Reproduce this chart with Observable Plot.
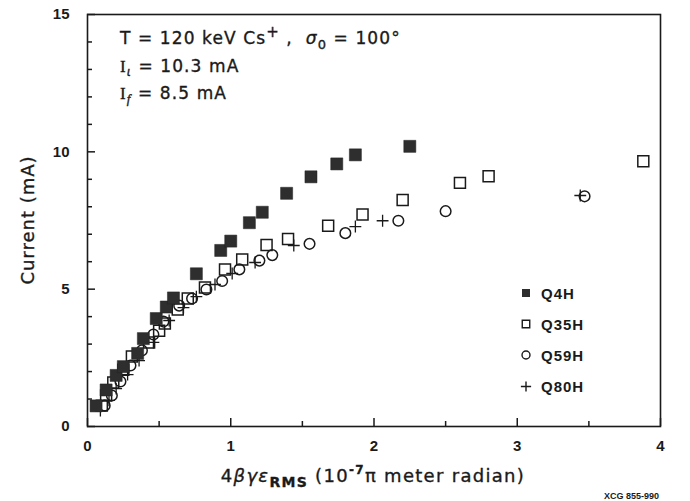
<!DOCTYPE html>
<html><head><meta charset="utf-8">
<script src="https://cdn.jsdelivr.net/npm/d3@7"></script>
<script src="https://cdn.jsdelivr.net/npm/@observablehq/plot@0.6"></script>
<style>
body{margin:0;background:#fff}
#chart{position:relative;width:690px;height:501px;overflow:hidden}
</style>
</head><body><div id="chart"></div>
<script>
// ---- data ----
const series = ["Q4H", "Q35H", "Q59H", "Q80H"];
const q4hX = [0.06,0.13,0.20,0.25,0.35,0.39,0.48,0.55,0.60,0.76,0.93,1.00,1.13,1.22,1.39,1.56,1.74,1.87,2.25];
const q4hY = [0.75,1.33,1.86,2.18,2.66,3.20,3.93,4.35,4.68,5.56,6.41,6.75,7.42,7.80,8.49,9.09,9.56,9.89,10.20];
const q35hX = [0.10,0.13,0.18,0.25,0.31,0.43,0.50,0.54,0.63,0.70,0.82,0.96,1.08,1.25,1.40,1.68,1.92,2.20,2.60,2.80,3.88];
const q35hY = [0.76,1.13,1.60,2.07,2.55,3.06,3.49,3.75,4.26,4.66,5.06,5.72,6.08,6.61,6.83,7.31,7.72,8.25,8.87,9.11,9.66];
const q59hX = [0.12,0.17,0.23,0.30,0.38,0.46,0.53,0.64,0.73,0.83,0.94,1.06,1.20,1.29,1.55,1.80,2.17,2.50,3.47];
const q59hY = [0.76,1.13,1.64,2.22,2.77,3.35,3.82,4.40,4.66,4.99,5.30,5.72,6.04,6.24,6.65,7.04,7.49,7.84,8.38];
const q80hX = [0.09,0.15,0.20,0.28,0.36,0.46,0.57,0.67,0.76,0.89,1.01,1.17,1.44,1.87,2.06,3.44];
const q80hY = [0.58,0.95,1.38,1.89,2.40,3.06,3.86,4.33,4.73,5.17,5.57,5.97,6.59,7.28,7.49,8.41];
const xMajor = [0, 1, 2, 3, 4];
const xMinor = [0.5, 1.5, 2.5, 3.5];
const yMajor = [0, 5, 10, 15];
const yMinor = [1,2,3,4,6,7,8,9,11,12,13,14];

const toRows = (xs, ys) => xs.map((x, i) => ({x, y: ys[i]}));
const q4h = toRows(q4hX, q4hY), q35h = toRows(q35hX, q35hY), q59h = toRows(q59hX, q59hY), q80h = toRows(q80hX, q80hY);

// layout
const W = 690, H = 501, mL = 87, mR = 30, mT = 14, mB = 75;
const xDom = [0, 4], yDom = [0, 15];
// tick lengths in pixels, turned into data units for inward tick rules
const xPerPx = (xDom[1] - xDom[0]) / (W - mL - mR);
const yPerPx = (yDom[1] - yDom[0]) / (H - mT - mB);

const ink = "#1a1a1a";
const plot = Plot.plot({
  width: W, height: H,
  marginLeft: mL, marginRight: mR, marginTop: mT, marginBottom: mB,
  x: {domain: xDom},
  y: {domain: yDom},
  style: {fontFamily: "'Liberation Sans', Arial, sans-serif", fontSize: "15px", fontWeight: "bold", color: ink, background: "#fff"},
  marks: [
    // inward tick marks
    Plot.ruleX(xMajor, {x: d => d, y1: yDom[0], y2: yDom[0] + 8 * yPerPx, stroke: ink, strokeWidth: 1.5}),
    Plot.ruleX(xMinor, {x: d => d, y1: yDom[0], y2: yDom[0] + 5 * yPerPx, stroke: ink, strokeWidth: 1.5}),
    Plot.ruleY(yMajor, {y: d => d, x1: xDom[0], x2: xDom[0] + 8 * xPerPx, stroke: ink, strokeWidth: 1.5}),
    Plot.ruleY(yMinor, {y: d => d, x1: xDom[0], x2: xDom[0] + 5 * xPerPx, stroke: ink, strokeWidth: 1.5}),
    Plot.axisX({ticks: xMajor, tickSize: 0, tickPadding: 14, tickFormat: d => d, label: null}),
    Plot.axisY({ticks: yMajor, tickSize: 0, tickPadding: 18, tickFormat: d => d, label: null}),
    Plot.frame({stroke: ink, strokeWidth: 1.6}),
    Plot.dot(q35h, {x: "x", y: "y", symbol: "square", r: 6.2, stroke: ink, strokeWidth: 1.5, fill: "none"}),
    Plot.dot(q59h, {x: "x", y: "y", symbol: "circle", r: 5.3, stroke: ink, strokeWidth: 1.5, fill: "none"}),
    Plot.dot(q80h, {x: "x", y: "y", symbol: "plus", r: 3.9, stroke: ink, strokeWidth: 1.3}),
    Plot.dot(q4h, {x: "x", y: "y", symbol: "square", r: 6.8, fill: "#2e2e2e", stroke: "#222", strokeWidth: 0.5})
  ]
});
document.getElementById("chart").appendChild(plot);

// ---- text overlays (annotation, axis titles, legend) ----
const svg = d3.select(plot);
const txtFont = "'DejaVu Sans', 'Liberation Sans', sans-serif";

// annotation
const ann = svg.append("g").attr("font-family", txtFont).attr("font-size", 17).attr("font-weight", "normal")
  .attr("text-anchor", "start").attr("fill", ink).attr("letter-spacing", "1.1px")
  .attr("stroke", ink).attr("stroke-width", 0.35);
const l1 = ann.append("text").attr("x", 120).attr("y", 44);
l1.append("tspan").text("T = 120 keV Cs");
l1.append("tspan").attr("dy", -7).attr("font-size", 15).text("+");
l1.append("tspan").attr("dy", 7).text(" ,  ");
l1.append("tspan").attr("font-style", "italic").text("σ");
l1.append("tspan").attr("dy", 5).attr("font-size", 13).text("0");
l1.append("tspan").attr("dy", -5).text(" = 100°");
const l2 = ann.append("text").attr("x", 120).attr("y", 72);
l2.append("tspan").attr("font-family", "'Liberation Serif', serif").text("I");
l2.append("tspan").attr("dy", 4).attr("font-size", 12).attr("font-style", "italic").text("ι");
l2.append("tspan").attr("dy", -4).text(" = 10.3 mA");
const l3 = ann.append("text").attr("x", 120).attr("y", 99);
l3.append("tspan").attr("font-family", "'Liberation Serif', serif").text("I");
l3.append("tspan").attr("dy", 4).attr("font-size", 13).attr("font-style", "italic").attr("font-family", "'Liberation Serif', serif").text("f");
l3.append("tspan").attr("dy", -4).text(" = 8.5 mA");

// y axis title
svg.append("text")
  .attr("transform", "translate(34,220) rotate(-90)")
  .attr("text-anchor", "middle").attr("font-family", txtFont).attr("font-size", 18).attr("font-weight", "normal")
  .attr("stroke", ink).attr("stroke-width", 0.35)
  .attr("letter-spacing", "1px").attr("fill", ink).text("Current (mA)");

// x axis title
const xt = svg.append("text").attr("x", 373).attr("y", 482).attr("text-anchor", "middle")
  .attr("font-family", txtFont).attr("font-size", 18).attr("font-weight", "normal").attr("fill", ink)
  .attr("stroke", ink).attr("stroke-width", 0.35).attr("letter-spacing", "1.3px");
xt.append("tspan").text("4");
xt.append("tspan").attr("font-style", "italic").text("βγε");
xt.append("tspan").attr("dy", 5).attr("font-size", 14).attr("font-weight", "bold").text("RMS");
xt.append("tspan").attr("dy", -5).text(" (10");
xt.append("tspan").attr("dy", -8).attr("font-size", 12).attr("font-weight", "bold").text("-7");
xt.append("tspan").attr("dy", 8).text("π meter radian)");

// legend
const leg = svg.append("g").attr("fill", ink).attr("text-anchor", "start");
const rowsY = [293, 324, 355, 386.5];
const legSym = [
  {type: d3.symbolSquare, size: 64, fill: "#2e2e2e", stroke: "none"},
  {type: d3.symbolSquare, size: 56, fill: "none", stroke: ink},
  {type: d3.symbolCircle, size: 50, fill: "none", stroke: ink},
  {type: d3.symbolPlus, size: 36, fill: "none", stroke: ink}
];
series.forEach((s, i) => {
  leg.append("path").attr("transform", `translate(526,${rowsY[i]})`)
    .attr("d", d3.symbol(legSym[i].type, legSym[i].size)())
    .attr("fill", legSym[i].fill).attr("stroke", legSym[i].stroke).attr("stroke-width", 1.4);
  leg.append("text").attr("x", 541).attr("y", rowsY[i] + 5.5)
    .attr("font-family", "'Liberation Sans', Arial, sans-serif").attr("font-weight", "bold")
    .attr("font-size", 15).attr("letter-spacing", "1px").text(s);
});

// plate number at the bottom right
svg.append("text").attr("x", 604).attr("y", 499).attr("text-anchor", "start").attr("font-family", "'Liberation Sans', Arial, sans-serif")
  .attr("font-weight", "bold").attr("font-size", 9).attr("fill", ink).text("XCG 855-990");
</script>
</body></html>
